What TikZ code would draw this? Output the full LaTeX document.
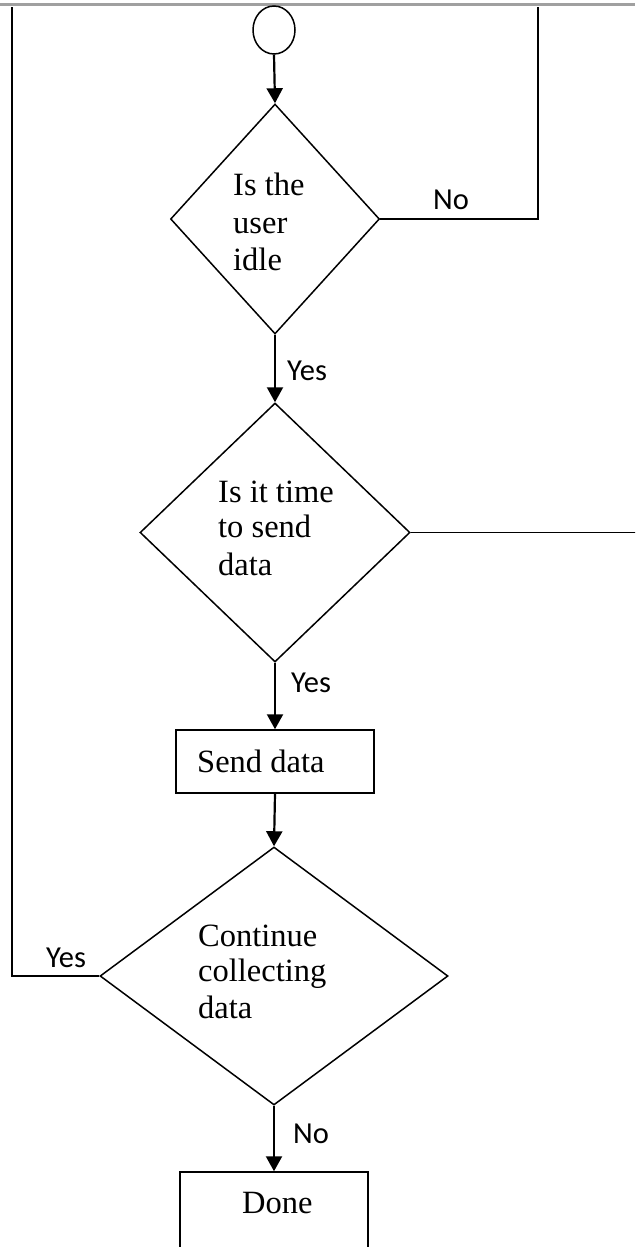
\documentclass[tikz,border=0pt]{standalone}
\usepackage{fontspec}
\setmainfont{Liberation Serif}
\newfontfamily\labelfont{Carlito}
\usetikzlibrary{shapes.geometric,arrows.meta}
\definecolor{rulegray}{RGB}{160,160,160}
\begin{document}
\begin{tikzpicture}[x=1pt,y=-1pt,
  shapeline/.style={draw=black,line width=1.5pt},
  dec/.style={shapeline,diamond,inner sep=0pt},
  boxnode/.style={shapeline,rectangle,inner sep=0pt},
  flow/.style={line width=2.2pt,-{Triangle[width=16pt,length=15pt]}},
  link/.style={line width=1.6pt},
  txt/.style={anchor=base west,inner sep=0pt,font=\fontsize{32.5}{36}\selectfont},
  lbl/.style={anchor=base west,inner sep=0pt,font=\labelfont\fontsize{30.5}{34}\selectfont}]
\clip (0,0) rectangle (635,1247);
\fill[white] (0,0) rectangle (635,1247);
\draw[rulegray, line width=2.5pt] (0,4.5) -- (635,4.5);

% shapes
\node[shapeline,ellipse,minimum width=42pt,minimum height=48pt,inner sep=0pt] (start) at (274,30) {};
\node[dec,minimum width=209pt,minimum height=230pt] (d1) at (275,219) {};
\node[dec,minimum width=270pt,minimum height=259pt] (d2) at (275,532.5) {};
\node[boxnode,minimum width=198pt,minimum height=63pt] (send) at (275,761.5) {};
\node[dec,minimum width=348pt,minimum height=258pt] (d3) at (274,976) {};
\node[boxnode,minimum width=188pt,minimum height=120pt] (done) at (274,1232) {};

% texts
\node[txt] (t1a) at (233,195) {Is the};
\node[txt] (t1b) at (233,233) {user};
\node[txt] (t1c) at (233,270) {idle};
\node[txt] (t2a) at (218,502) {Is it time};
\node[txt] (t2b) at (218,537) {to send};
\node[txt] (t2c) at (218,575) {data};
\node[txt] (ts) at (197,772) {Send data};
\node[txt] (t3a) at (198,946) {Continue};
\node[txt] (t3b) at (198,981) {collecting};
\node[txt] (t3c) at (198,1018) {data};
\node[txt] (td) at (242,1213) {Done};

% labels
\node[lbl] (no1) at (433,209) {No};
\node[lbl] (yes1) at (287,380) {Yes};
\node[lbl] (yes2) at (291,692) {Yes};
\node[lbl] (yes3) at (46,967) {Yes};
\node[lbl] (no2) at (293,1143) {No};

% free ends
\coordinate (rtop) at (538,7);
\coordinate (ltop) at (12,7);
\coordinate (redge) at (636,532.5);

% connectors
\draw[flow] (start.south) -- (d1.north);
\draw[link] (d1.east) -| (rtop);
\draw[flow] (d1.south) -- (d2.north);
\draw[link] (d2.east) -- (redge);
\draw[flow] (d2.south) -- (send.north);
\draw[flow] (send.south) -- (d3.north);
\draw[link] (d3.west) -| (ltop);
\draw[flow] (d3.south) -- (done.north);
\end{tikzpicture}
\end{document}
